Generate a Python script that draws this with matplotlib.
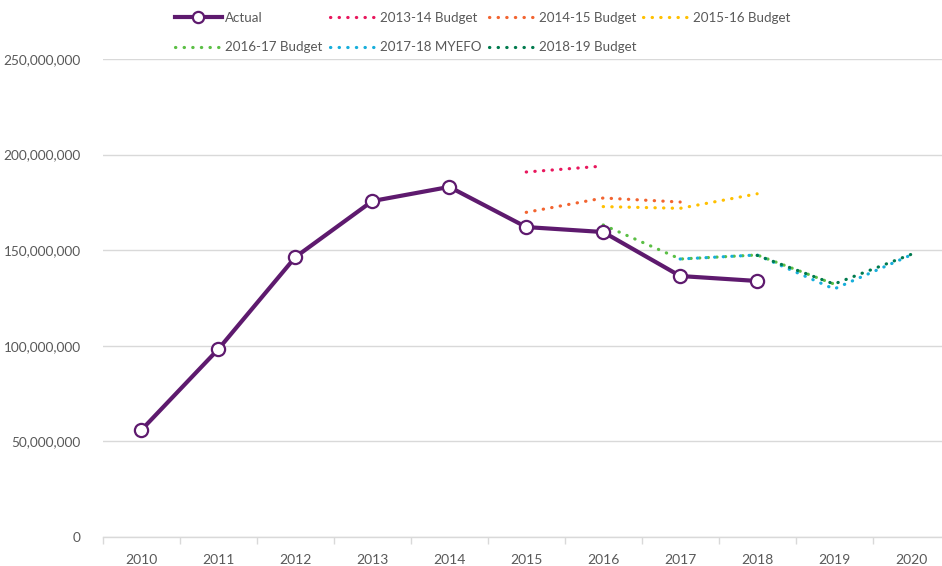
import matplotlib
matplotlib.use("Agg")
import matplotlib.pyplot as plt
from matplotlib.ticker import FuncFormatter, FixedLocator

years = ["2010", "2011", "2012", "2013", "2014", "2015", "2016", "2017", "2018", "2019", "2020"]

actual = [56.0, 98.3, 146.4, 175.7, 183.1, 162.1, 159.5, 136.5, 133.9]

# forecasts: (first year index, values in millions)
budget_1314 = (5, [190.9, 194.0])
budget_1415 = (5, [169.8, 177.3, 175.2])
budget_1516 = (6, [172.8, 171.9, 179.5])
budget_1617 = (6, [163.2, 145.4, 147.5, 132.3])
myefo_1718 = (7, [145.4, 147.5, 129.7, 147.5])
budget_1819 = (8, [147.3, 132.3, 147.8])

forecasts = [
    ("2013-14 Budget", budget_1314, "#E8175D"),
    ("2014-15 Budget", budget_1415, "#F26430"),
    ("2015-16 Budget", budget_1516, "#FFC000"),
    ("2016-17 Budget", budget_1617, "#5BBF45"),
    ("2017-18 MYEFO", myefo_1718, "#17AEDB"),
    ("2018-19 Budget", budget_1819, "#007A4D"),
]

plt.rcParams["font.family"] = ["Lato", "DejaVu Sans"]
TEXT = "#595959"
GRID = "#D9D9D9"

fig = plt.figure(figsize=(9.42, 5.66), dpi=100)
ax = fig.add_axes([103 / 942, 1 - 537 / 566, 1 - 103 / 942, (537 - 59) / 566])

handles = {}
for label, (start, vals), color in forecasts:
    xs = list(range(start, start + len(vals)))
    ys = [v * 1e6 for v in vals]
    (h,) = ax.plot(xs, ys, color=color, linewidth=2.3,
                   linestyle=(0, (0.1, 2.6)), dash_capstyle="round",
                   solid_capstyle="round", zorder=3, label=label)
    handles[label] = h

(ha,) = ax.plot(range(len(actual)), [v * 1e6 for v in actual], color="#5E1A6E",
                linewidth=3.0, marker="o", markersize=9.5, markerfacecolor="white",
                markeredgecolor="#5E1A6E", markeredgewidth=1.6, zorder=4, label="Actual")
handles["Actual"] = ha

ax.set_ylim(0, 250e6)
ax.set_xlim(-0.5, 10.5 - 7.5 / 77)
ax.set_yticks([0, 50e6, 100e6, 150e6, 200e6, 250e6])
ax.yaxis.set_major_formatter(FuncFormatter(lambda v, p: f"{int(v):,}"))
ax.set_xticks(range(len(years)))
ax.set_xticklabels(years)
ax.xaxis.set_minor_locator(FixedLocator([i - 0.5 for i in range(len(years) + 1)]))
ax.tick_params(axis="x", which="major", length=0, pad=12, labelsize=10, labelcolor=TEXT)
ax.tick_params(axis="x", which="minor", length=5, color=GRID, width=1)
ax.tick_params(axis="y", length=0, pad=16, labelsize=9.8, labelcolor=TEXT)

ax.grid(axis="y", color=GRID, linewidth=1)
ax.set_axisbelow(True)
for side in ["top", "right", "left"]:
    ax.spines[side].set_visible(False)
ax.spines["bottom"].set_color(GRID)
ax.spines["bottom"].set_linewidth(1)

order = ["Actual", "2016-17 Budget", "2013-14 Budget", "2017-18 MYEFO",
         "2014-15 Budget", "2018-19 Budget", "2015-16 Budget"]
leg = fig.legend([handles[k] for k in order], order, ncol=4, loc="upper left",
                 bbox_to_anchor=(175 / 942, 1 - 12 / 566), frameon=False,
                 fontsize=9.6, handlelength=3.5, handletextpad=0.25,
                 columnspacing=0.55, labelspacing=1.3, borderpad=0,
                 borderaxespad=0, markerscale=0.85)
for t in leg.get_texts():
    t.set_color(TEXT)

fig.savefig("out.png", dpi=100)
